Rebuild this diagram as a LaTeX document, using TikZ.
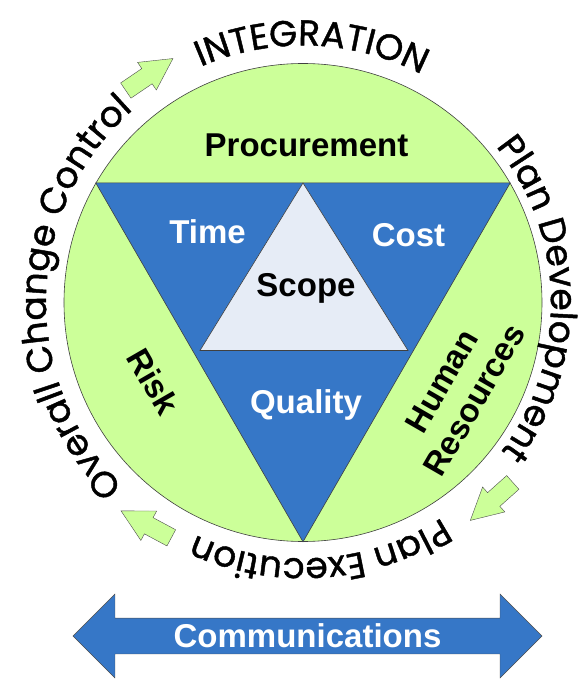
\documentclass[tikz,border=0pt]{standalone}
\usepackage{fontspec}
\setmainfont{Liberation Sans}
\newfontfamily\ringfont[FakeBold=1.2]{Poppins}
\usetikzlibrary{shapes.arrows,decorations.text}
\definecolor{leaf}{RGB}{204,255,153}
\definecolor{pmblue}{RGB}{54,119,199}
\definecolor{scopegray}{RGB}{230,236,246}

\begin{document}
\begin{tikzpicture}[x=1pt,y=1pt,
    edge/.style={draw=black!75,line width=0.6pt},
    areatext/.style={font=\fontsize{33}{38}\selectfont\bfseries},
    bluetext/.style={areatext,text=white},
    flowarrow/.style={single arrow,draw=black!70,fill=leaf,minimum height=57,
        minimum width=33,single arrow head extend=7.5,single arrow tip angle=56,
        inner xsep=0,inner ysep=9pt},
    ringtext/.style={decorate,decoration={text along path,text align=center,
        text={|\ringfont\fontsize{36}{36}\selectfont|#1}}}]
    \useasboundingbox (-303,-377.5) rectangle (283,302.5);
    % knowledge areas
    \node[circle,edge,fill=leaf,minimum size=478,inner sep=0] (ring) at (0,0) {};
    \draw[edge,fill=pmblue] (ring.150) -- (ring.30) -- (ring.-90) -- cycle;
    \draw[edge,fill=scopegray] (0,119.5) -- (-103,-48) -- (105,-48) -- cycle;
    \node[areatext,anchor=base] (procurement) at (3.5,145.5) {Procurement};
    \node[bluetext,anchor=base] (time) at (-95.5,58.5) {Time};
    \node[bluetext,anchor=base] (cost) at (105.5,55.5) {Cost};
    \node[areatext,anchor=base] (scope) at (3,5.5) {Scope};
    \node[bluetext,anchor=base] (quality) at (3,-110.5) {Quality};
    \node[areatext,rotate=-60] (risk) at (-149.7,-79.2) {Risk};
    \node[areatext,rotate=60,align=center] (human) at (155,-88) {Human\\Resources};
    % integration processes round the ring
    \path[ringtext=INTEGRATION] (123:257) arc[start angle=123,end angle=53,radius=257];
    \path[ringtext=Plan Development] (46:248) arc[start angle=46,end angle=-44,radius=248];
    \path[ringtext=Plan Execution] (-46:256) arc[start angle=-46,end angle=-126,radius=256];
    \path[ringtext=Overall Change Control] (233:257) arc[start angle=233,end angle=124,radius=257];
    % flow arrows
    \node[flowarrow,rotate=34.2,anchor=tip] (toint) at (-129.7,244.2) {};
    \node[flowarrow,rotate=-138.2,anchor=tip] (toexec) at (167,-218.2) {};
    \node[flowarrow,rotate=151.8,anchor=tip] (tocontrol) at (-182.3,-208.2) {};
    % communications
    \node[double arrow,draw=black!70,fill=pmblue,minimum height=469,minimum width=84,
        double arrow head extend=16.5,inner sep=0,bluetext] (comm) at (4.5,-333.5) {Communications};
\end{tikzpicture}
\end{document}
